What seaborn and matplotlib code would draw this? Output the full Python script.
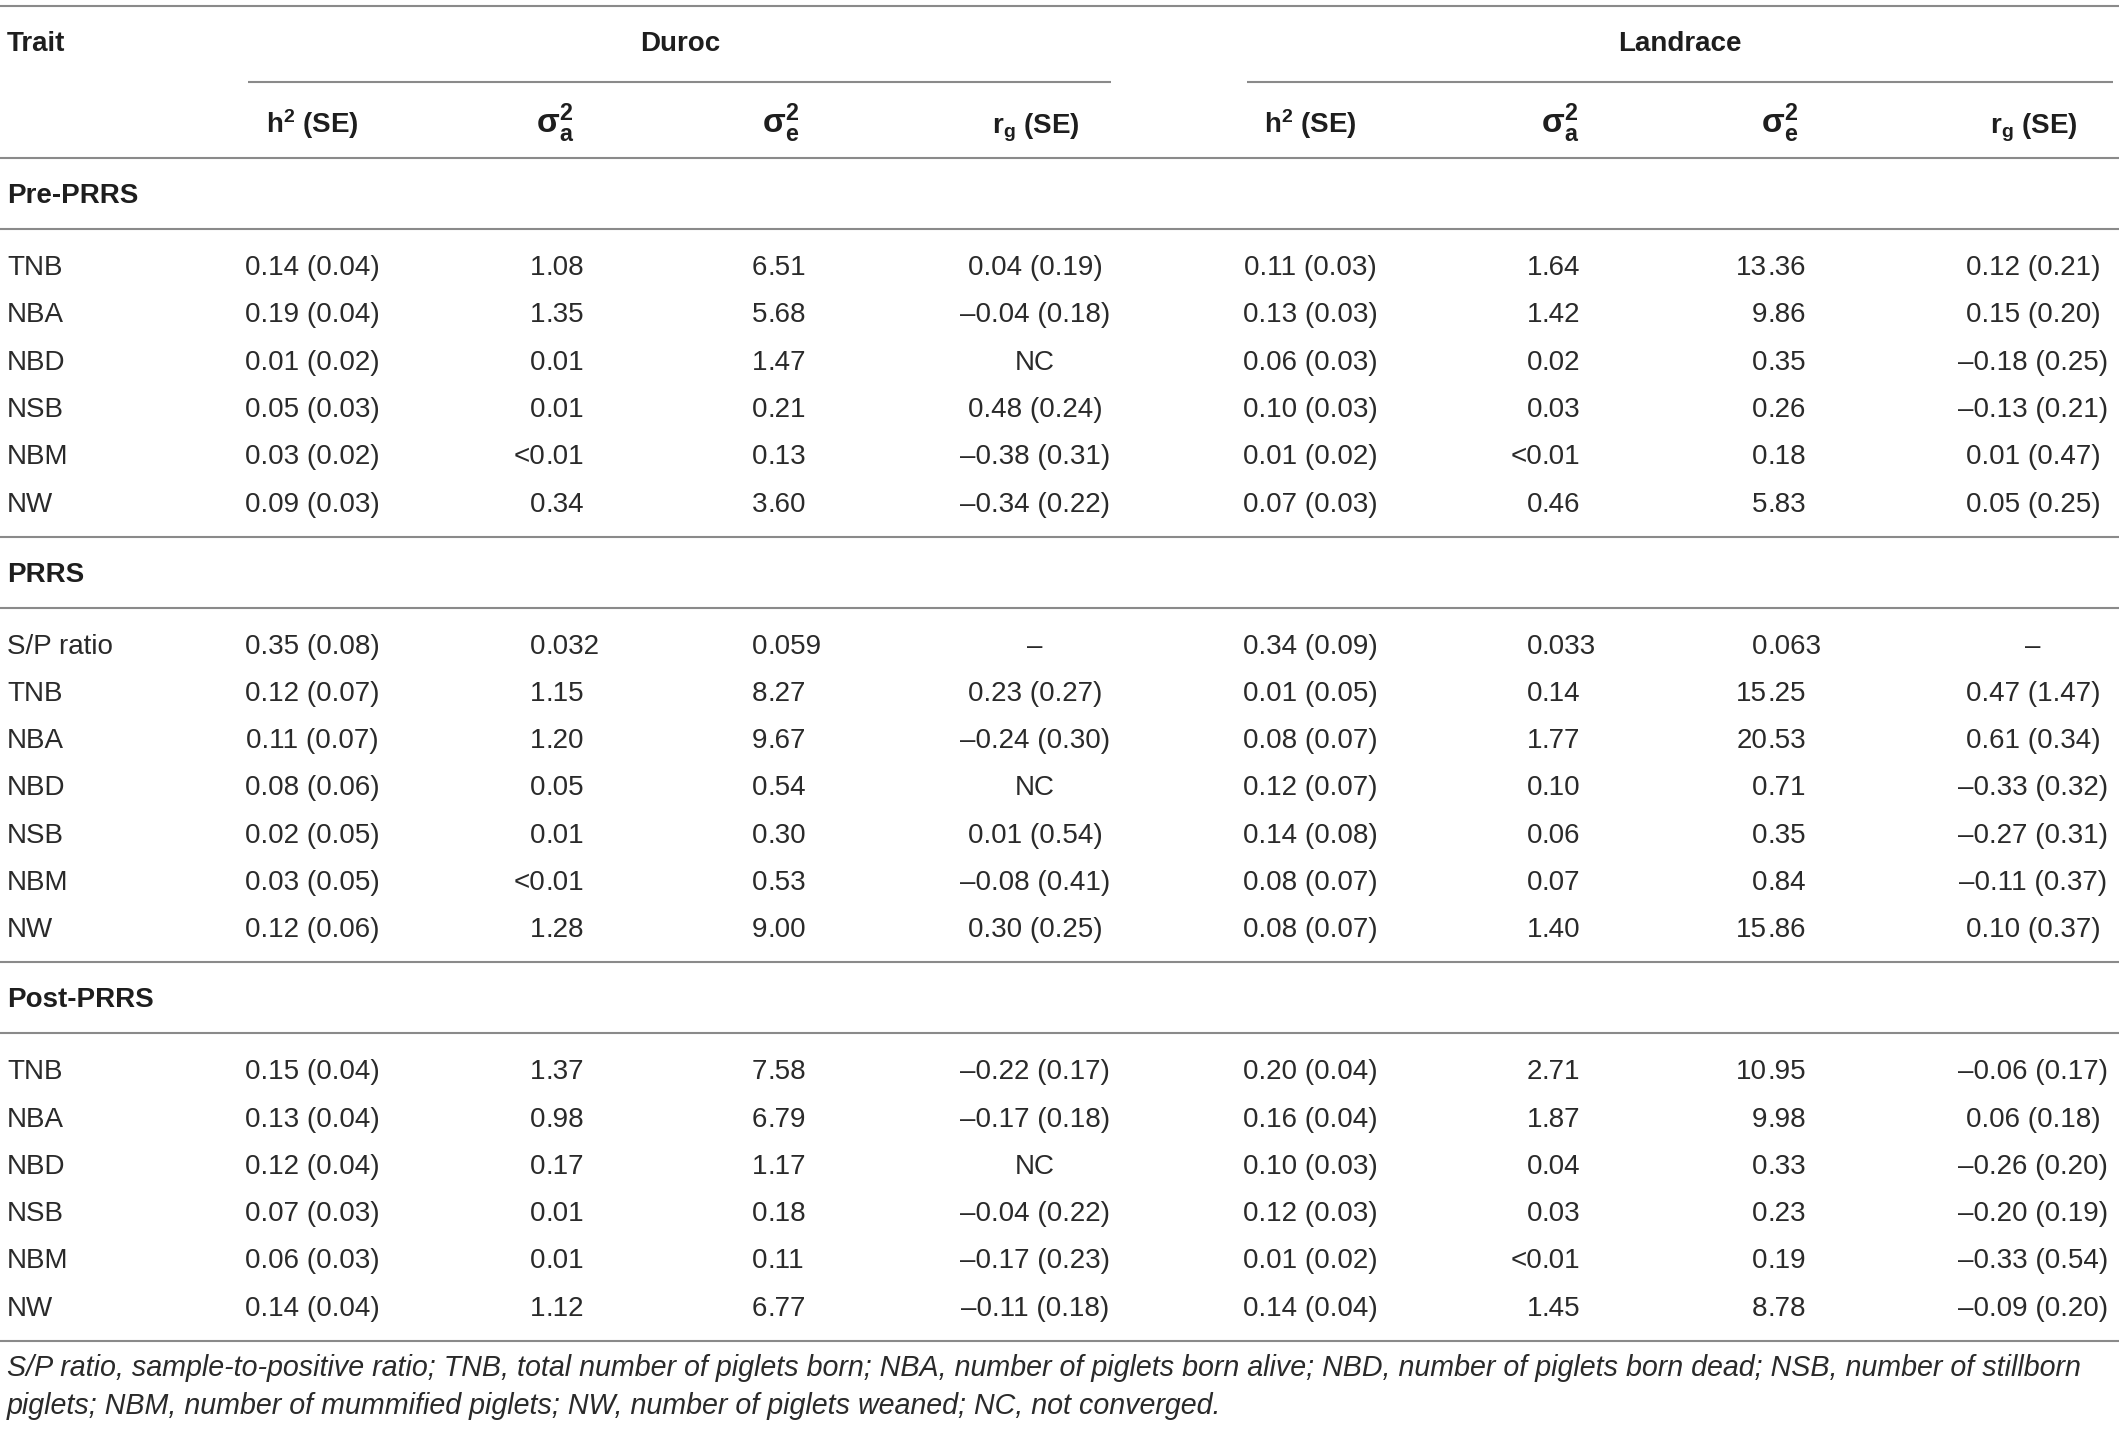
import matplotlib
matplotlib.use("Agg")
import matplotlib.pyplot as plt
import seaborn as sns

# ---------------- data ----------------
sections = ["Pre-PRRS", "PRRS", "Post-PRRS"]

pre_traits = ["TNB", "NBA", "NBD", "NSB", "NBM", "NW"]
pre_duroc_h2 = ["0.14 (0.04)", "0.19 (0.04)", "0.01 (0.02)", "0.05 (0.03)", "0.03 (0.02)", "0.09 (0.03)"]
pre_duroc_sa = ["1.08", "1.35", "0.01", "0.01", "<0.01", "0.34"]
pre_duroc_se = ["6.51", "5.68", "1.47", "0.21", "0.13", "3.60"]
pre_duroc_rg = ["0.04 (0.19)", "–0.04 (0.18)", "NC", "0.48 (0.24)", "–0.38 (0.31)", "–0.34 (0.22)"]
pre_land_h2 = ["0.11 (0.03)", "0.13 (0.03)", "0.06 (0.03)", "0.10 (0.03)", "0.01 (0.02)", "0.07 (0.03)"]
pre_land_sa = ["1.64", "1.42", "0.02", "0.03", "<0.01", "0.46"]
pre_land_se = ["13.36", "9.86", "0.35", "0.26", "0.18", "5.83"]
pre_land_rg = ["0.12 (0.21)", "0.15 (0.20)", "–0.18 (0.25)", "–0.13 (0.21)", "0.01 (0.47)", "0.05 (0.25)"]

prrs_traits = ["S/P ratio", "TNB", "NBA", "NBD", "NSB", "NBM", "NW"]
prrs_duroc_h2 = ["0.35 (0.08)", "0.12 (0.07)", "0.11 (0.07)", "0.08 (0.06)", "0.02 (0.05)", "0.03 (0.05)", "0.12 (0.06)"]
prrs_duroc_sa = ["0.032", "1.15", "1.20", "0.05", "0.01", "<0.01", "1.28"]
prrs_duroc_se = ["0.059", "8.27", "9.67", "0.54", "0.30", "0.53", "9.00"]
prrs_duroc_rg = ["–", "0.23 (0.27)", "–0.24 (0.30)", "NC", "0.01 (0.54)", "–0.08 (0.41)", "0.30 (0.25)"]
prrs_land_h2 = ["0.34 (0.09)", "0.01 (0.05)", "0.08 (0.07)", "0.12 (0.07)", "0.14 (0.08)", "0.08 (0.07)", "0.08 (0.07)"]
prrs_land_sa = ["0.033", "0.14", "1.77", "0.10", "0.06", "0.07", "1.40"]
prrs_land_se = ["0.063", "15.25", "20.53", "0.71", "0.35", "0.84", "15.86"]
prrs_land_rg = ["–", "0.47 (1.47)", "0.61 (0.34)", "–0.33 (0.32)", "–0.27 (0.31)", "–0.11 (0.37)", "0.10 (0.37)"]

post_traits = ["TNB", "NBA", "NBD", "NSB", "NBM", "NW"]
post_duroc_h2 = ["0.15 (0.04)", "0.13 (0.04)", "0.12 (0.04)", "0.07 (0.03)", "0.06 (0.03)", "0.14 (0.04)"]
post_duroc_sa = ["1.37", "0.98", "0.17", "0.01", "0.01", "1.12"]
post_duroc_se = ["7.58", "6.79", "1.17", "0.18", "0.11", "6.77"]
post_duroc_rg = ["–0.22 (0.17)", "–0.17 (0.18)", "NC", "–0.04 (0.22)", "–0.17 (0.23)", "–0.11 (0.18)"]
post_land_h2 = ["0.20 (0.04)", "0.16 (0.04)", "0.10 (0.03)", "0.12 (0.03)", "0.01 (0.02)", "0.14 (0.04)"]
post_land_sa = ["2.71", "1.87", "0.04", "0.03", "<0.01", "1.45"]
post_land_se = ["10.95", "9.98", "0.33", "0.23", "0.19", "8.78"]
post_land_rg = ["–0.06 (0.17)", "0.06 (0.18)", "–0.26 (0.20)", "–0.20 (0.19)", "–0.33 (0.54)", "–0.09 (0.20)"]

groups = ["Duroc", "Landrace"]
col_headers = [r"$\mathbf{h^2}$ (SE)", r"$\mathbf{\sigma}_{\mathbf{a}}^{\mathbf{2}}$",
               r"$\mathbf{\sigma}_{\mathbf{e}}^{\mathbf{2}}$", r"$\mathbf{r_g}$ (SE)"]
col_header_fs = [20, 24, 24, 20]
footnote = ["S/P ratio, sample-to-positive ratio; TNB, total number of piglets born; NBA, number of piglets born alive; "
            "NBD, number of piglets born dead; NSB, number of stillborn",
            "piglets; NBM, number of mummified piglets; NW, number of piglets weaned; NC, not converged."]

section_data = [
    (pre_traits, [pre_duroc_h2, pre_duroc_sa, pre_duroc_se, pre_duroc_rg,
                  pre_land_h2, pre_land_sa, pre_land_se, pre_land_rg]),
    (prrs_traits, [prrs_duroc_h2, prrs_duroc_sa, prrs_duroc_se, prrs_duroc_rg,
                   prrs_land_h2, prrs_land_sa, prrs_land_se, prrs_land_rg]),
    (post_traits, [post_duroc_h2, post_duroc_sa, post_duroc_se, post_duroc_rg,
                   post_land_h2, post_land_sa, post_land_se, post_land_rg]),
]

# ---------------- style ----------------
sns.set_theme(style="white")
plt.rcParams["font.family"] = ["Liberation Sans", "DejaVu Sans"]
plt.rcParams["mathtext.fontset"] = "custom"
plt.rcParams["mathtext.rm"] = "Liberation Sans"
plt.rcParams["mathtext.it"] = "Liberation Sans:italic"
plt.rcParams["mathtext.bf"] = "Liberation Sans:bold"

W, H = 2119, 1429
fig = plt.figure(figsize=(W / 100, H / 100), dpi=100)
ax = fig.add_axes([0, 0, 1, 1])
ax.set_xlim(0, W)
ax.set_ylim(H, 0)
ax.axis("off")

FS = 20
TXT = "#2a2a2a"
HDR = "#1e1e1e"
LINE = "#8a8a8a"
LW = 1.5

# layout (pixels)
x_trait = 7
col_mode = ["center", "dec", "dec", "center", "center", "dec", "dec", "center"]
col_x = [312, 545, 767, 1035, 1310, 1542, 1767, 2033]
hdr_x = [312, 555, 781, 1036, 1310, 1560, 1780, 2034]
grp_x = [680, 1680]
grp_line = [(248, 1111), (1247, 2113)]
row_h = 47.3

def hline(y, x0=0, x1=W):
    ax.plot([x0, x1], [y, y], color=LINE, lw=LW, solid_capstyle="butt")

def put(x, y, s, mode):
    if mode == "dec" and "." in s:
        a, b = s.split(".", 1)
        ax.text(x, y, a, ha="right", va="baseline", fontsize=FS, color=TXT)
        ax.text(x, y, "." + b, ha="left", va="baseline", fontsize=FS, color=TXT)
    else:
        ax.text(x, y, s, ha="center", va="baseline", fontsize=FS, color=TXT)

# header
hline(6)
ax.text(x_trait, 51, "Trait", ha="left", va="baseline", fontsize=FS, fontweight="bold", color=HDR)
for g, gx, (l0, l1) in zip(groups, grp_x, grp_line):
    ax.text(gx, 51, g, ha="center", va="baseline", fontsize=FS, fontweight="bold", color=HDR)
    hline(82, l0, l1)
for i, hx in enumerate(hdr_x):
    ax.text(hx, 133, col_headers[i % 4], ha="center", va="baseline", fontsize=col_header_fs[i % 4],
            fontweight="bold", color=HDR)
hline(158)

# body
y_line = 158
for name, (traits, cols) in zip(sections, section_data):
    ax.text(x_trait, y_line + 45, name, ha="left", va="baseline", fontsize=FS,
            fontweight="bold", color=HDR)
    y_line2 = y_line + 71
    hline(y_line2)
    for r, t in enumerate(traits):
        yb = y_line2 + 46 + r * row_h
        ax.text(x_trait, yb, t, ha="left", va="baseline", fontsize=FS, color=TXT)
        for c in range(8):
            put(col_x[c], yb, cols[c][r], col_mode[c])
    y_line = y_line2 + 46 + (len(traits) - 1) * row_h + 25
    hline(y_line)

# footnote
ax.text(x_trait, 1376, footnote[0], ha="left", va="baseline", fontsize=20.6,
        style="italic", color=TXT)
ax.text(x_trait, 1414, footnote[1], ha="left", va="baseline", fontsize=20.6,
        style="italic", color=TXT)

fig.savefig("out.png", dpi=100, facecolor="white")
